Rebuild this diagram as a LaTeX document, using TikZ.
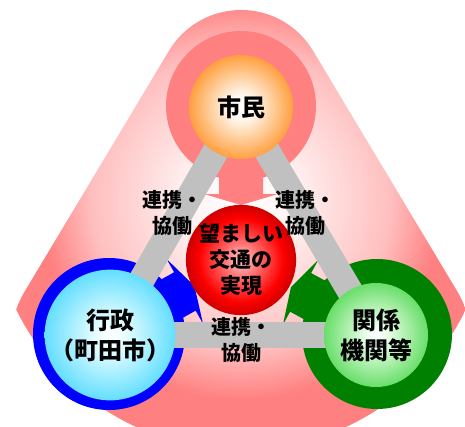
\documentclass[tikz,border=0pt]{standalone}
\usepackage{fontspec}
\newfontfamily\jp{Noto Sans CJK JP}
\usetikzlibrary{calc}
\pgfdeclarelayer{bg}\pgfdeclarelayer{arr}\pgfdeclarelayer{ring}\pgfdeclarelayer{bar}
\pgfsetlayers{bg,arr,ring,bar,main}
\definecolor{salmon}{RGB}{255,128,128}
\definecolor{bgmid}{RGB}{255,190,190}
\definecolor{bglight}{RGB}{255,244,244}
\definecolor{ringblue}{RGB}{0,0,255}
\definecolor{ringgreen}{RGB}{0,128,0}
\definecolor{bargray}{RGB}{192,192,192}
\definecolor{orangeedge}{RGB}{255,160,64}
\definecolor{orangelight}{RGB}{255,248,240}
\definecolor{cyanedge}{RGB}{100,222,255}
\definecolor{cyanlight}{RGB}{235,255,255}
\definecolor{greenedge}{RGB}{105,222,105}
\definecolor{greenlight}{RGB}{235,255,235}
\definecolor{redcenter}{RGB}{255,205,205}
\definecolor{redinner}{RGB}{255,90,90}
\definecolor{redmid}{RGB}{255,0,0}
\definecolor{rededge}{RGB}{205,0,0}
\pgfdeclareradialshading{bgshade}{\pgfpoint{0bp}{0bp}}{color(0bp)=(white); color(5bp)=(bglight); color(15bp)=(bgmid); color(20bp)=(salmon); color(50bp)=(salmon)}
\pgfdeclareradialshading{orangeball}{\pgfpoint{0bp}{0bp}}{color(0bp)=(white); color(6bp)=(orangelight); color(25bp)=(orangeedge); color(50bp)=(orangeedge)}
\pgfdeclareradialshading{cyanball}{\pgfpoint{0bp}{0bp}}{color(0bp)=(white); color(5bp)=(cyanlight); color(25bp)=(cyanedge); color(50bp)=(cyanedge)}
\pgfdeclareradialshading{greenball}{\pgfpoint{0bp}{0bp}}{color(0bp)=(white); color(5bp)=(greenlight); color(25bp)=(greenedge); color(50bp)=(greenedge)}
\pgfdeclareradialshading{redball}{\pgfpoint{0bp}{0bp}}{color(0bp)=(redcenter); color(10bp)=(redinner); color(19bp)=(redmid); color(25bp)=(rededge); color(50bp)=(rededge)}
\newcommand\flatarrow[4]{%
  \begin{scope}[shift={(#2,#3)}, rotate=#4]
    \fill[#1] (0,-22) -- (87,-22) -- (87,-37) -- (98,0) -- (87,37) -- (87,22) -- (0,22) -- cycle;
  \end{scope}}
\begin{document}
\begin{tikzpicture}[x=1pt,y=-1pt,
  ball/.style={circle, inner sep=0pt, align=center,
    font=\jp\bfseries\fontsize{24}{30}\selectfont},
  redtext/.style={circle, inner sep=0pt, minimum size=104pt, align=center,
    font=\jp\bfseries\fontsize{21}{26}\selectfont, shading=redball},
  lbl/.style={align=center, inner sep=0pt,
    font=\jp\bfseries\fontsize{20}{26}\selectfont},
  barline/.style={draw=bargray, line width=26pt}]
\useasboundingbox (0,0) rectangle (465,426);
% background rounded triangle
\begin{pgfonlayer}{bg}
\begin{scope}
\clip (241,94) ++(-149:84) arc[start angle=-149,end angle=-31,radius=84]
  -- ($(367,345)+(-31:105)$) arc[start angle=-31,end angle=90,radius=105]
  -- ($(115,345)+(90:105)$) arc[start angle=90,end angle=211,radius=105] -- cycle;
\shade[shading=bgshade] (241,200) circle[radius=250];
\end{scope}
\end{pgfonlayer}
% arrows
\begin{pgfonlayer}{arr}
\flatarrow{salmon}{241}{107}{-90}
\flatarrow{ringblue}{109}{334}{29.3}
\flatarrow{ringgreen}{377}{334}{151.4}
\end{pgfonlayer}
% rings
\begin{pgfonlayer}{ring}
\fill[salmon] (241,106) circle[radius=75];
\fill[ringblue] (109,334) circle[radius=76];
\fill[ringgreen] (377,334) circle[radius=75];
\end{pgfonlayer}
% balls
\node[ball, minimum size=104pt, shading=orangeball] (citizen) at (241,107) {市民};
\node[ball, minimum size=106pt, shading=cyanball] (gov) at (110,335) {行政\\（町田市）};
\node[ball, minimum size=104pt, shading=greenball] (rel) at (376,335) {関係\\機関等};
\node[redtext] (goal) at (241,260) {望ましい\\交通の\\実現};
% bars
\begin{pgfonlayer}{bar}
\draw[barline] (citizen.center) -- (gov.center);
\draw[barline] (citizen.center) -- (rel.center);
\draw[barline] (gov.center) -- (rel.center);
\end{pgfonlayer}
% labels
\node[lbl] (lblL) at (172,213) {連携・\\協働};
\node[lbl] (lblR) at (305,213) {連携・\\協働};
\node[lbl] (lblB) at (241,340) {連携・\\協働};
\end{tikzpicture}
\end{document}
